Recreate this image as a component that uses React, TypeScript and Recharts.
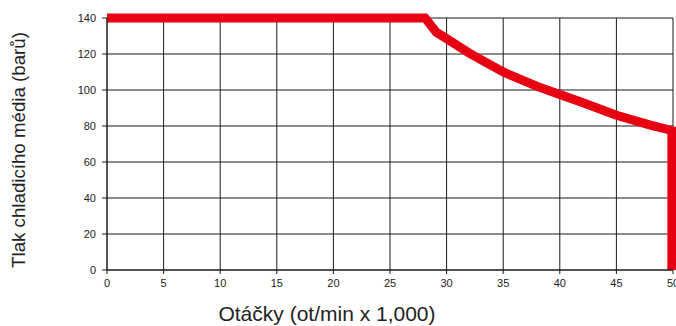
import { LineChart, Line, XAxis, YAxis, CartesianGrid } from "recharts";

// otáčky (tis. ot/min) a tlak (bar)
const rpm = [0, 28.1, 29.1, 30, 32, 35, 38, 40, 42, 45, 48, 49.9, 49.9];
const pressure = [140, 140, 132, 128.5, 120.5, 110, 102, 97.5, 93, 86, 80.5, 77.5, 0];

const xTicks = [0, 5, 10, 15, 20, 25, 30, 35, 40, 45, 50];
const yTicks = [0, 20, 40, 60, 80, 100, 120, 140];

const data = rpm.map((r, i) => ({ rpm: r, pressure: pressure[i] }));

const FONT = "Arial, 'Liberation Sans', sans-serif";

export default function App() {
  return (
    <div style={{ position: "absolute", left: 0, top: 0, background: "#fff" }}>
      <LineChart
        width={676}
        height={326}
        data={data}
        margin={{ top: 18, right: 3, left: 7, bottom: 16 }}
      >
        <CartesianGrid stroke="#1a1a1a" strokeWidth={1} />
        <XAxis
          dataKey="rpm"
          type="number"
          domain={[0, 50]}
          ticks={xTicks}
          interval={0}
          height={40}
          axisLine={{ stroke: "#1a1a1a" }}
          tickLine={{ stroke: "#1a1a1a" }}
          tickSize={4}
          tickMargin={5}
          tick={{ fill: "#222", fontSize: 11, fontFamily: FONT }}
          label={{
            content: () => (
              <text
                x={327}
                y={321}
                textAnchor="middle"
                fontSize={21}
                fontFamily={FONT}
                fill="#222"
              >
                Otáčky (ot/min x 1,000)
              </text>
            ),
          }}
        />
        <YAxis
          type="number"
          domain={[0, 140]}
          ticks={yTicks}
          interval={0}
          width={100}
          axisLine={{ stroke: "#1a1a1a" }}
          tickLine={{ stroke: "#1a1a1a" }}
          tickSize={5}
          tickMargin={6}
          tick={{ fill: "#222", fontSize: 11, fontFamily: FONT }}
          label={{
            content: () => (
              <text
                x={25}
                y={150}
                transform="rotate(-90 25 150)"
                textAnchor="middle"
                fontSize={18.7}
                fontFamily={FONT}
                fill="#222"
              >
                Tlak chladicího média (barů)
              </text>
            ),
          }}
        />
        <Line
          type="linear"
          dataKey="pressure"
          stroke="#e60012"
          strokeWidth={9}
          dot={false}
          activeDot={false}
          isAnimationActive={false}
        />
      </LineChart>
    </div>
  );
}
